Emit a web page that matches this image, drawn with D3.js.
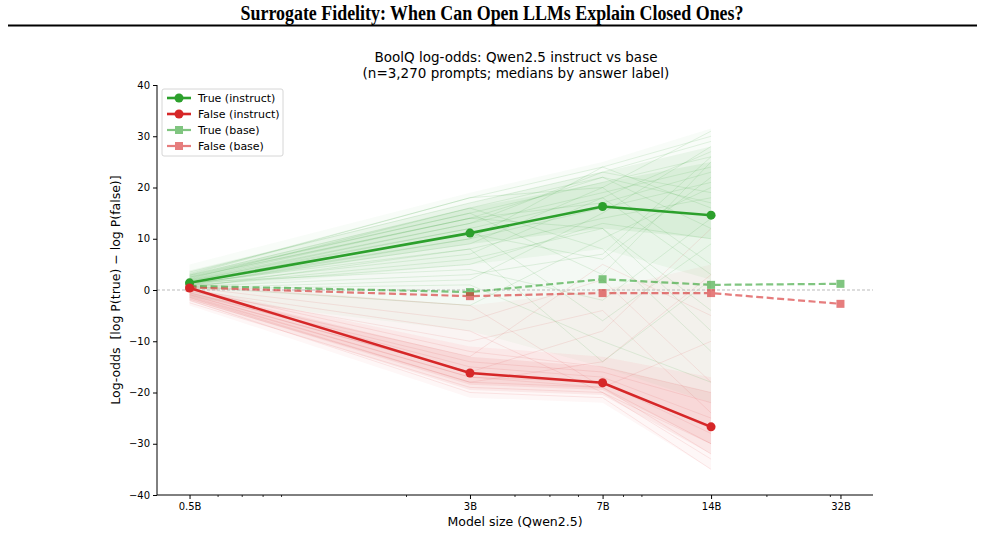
<!DOCTYPE html>
<html>
<head>
<meta charset="utf-8">
<script src="https://cdn.jsdelivr.net/npm/d3@7"></script>
<style>
  body { margin: 0; background: #fff; }
  svg text { font-family: "DejaVu Sans", sans-serif; }
</style>
</head>
<body>
<div id="chart"></div>
<script>
// model sizes (billions of params) and their tick labels
var sizes = [0.5, 3, 7, 14, 32];
var sizeLabels = ["0.5B", "3B", "7B", "14B", "32B"];
var minorTicks = [0.6, 0.7, 0.8, 0.9, 2, 4, 5, 6, 8, 9, 20, 30];
var yTicks = [-40, -30, -20, -10, 0, 10, 20, 30, 40];

// medians by answer label (instruct only goes up to 14B)
var trueInstruct = [1.4, 11.1, 16.3, 14.6];
var falseInstruct = [0.4, -16.2, -18.1, -26.7];
var trueBase = [0.8, -0.4, 2.1, 1.0, 1.2];
var falseBase = [0.5, -1.2, -0.6, -0.6, -2.7];

// rough spread of the per-prompt instruct curves
// per size 0.5B..14B
var trueSpread = {
  outerLow: [-1.5, -8, -15, -22],
  denseLow: [0, 5, 8, 2],
  coreLow: [0.8, 9, 12, 10],
  coreHigh: [3, 16, 21, 25],
  denseHigh: [3.8, 17, 23, 28],
  outerHigh: [5, 19, 25, 31.5]
};
var falseSpread = {
  outerLow: [-3, -21, -22, -35],
  denseLow: [-2.2, -19.5, -20.5, -32],
  coreLow: [-1.8, -18.5, -19.5, -30],
  coreHigh: [0, -13, -15, -20],
  denseHigh: [0.5, -11, -13, -17],
  outerHigh: [1.5, -3, 0, 5]
};

// a few individual prompts, estimated from the visible strands
var trueSamples = [
  [3.5, 17, 23, 29], [2.8, 15, 21, 26], [2.0, 13, 19, 24], [1.5, 12, 18, 27],
  [1.0, 10, 16, 21], [0.5, 8, 14, 18], [2.5, 14, 22, 12], [1.8, 11, 6, 22],
  [1.2, 9, 20, 5], [0.8, 6, 12, -8], [1.5, 4, -2, 14], [0.4, 2, 15, 28],
  [2.2, 16, 8, -12], [1.0, 7, 18, 3], [0.6, -3, 10, 20], [3.0, 18, 24, 30],
  [1.9, 12, -6, 9], [0.2, 1, -10, -18], [1.4, 10, 24, 16], [2.6, 15, 3, 25],
  [3.2, 18, 20, 31], [2.4, 14, 17, 23], [0.9, 5, 13, 10], [1.7, 13, 23, 19],
  [2.9, 16, 22, 17], [0.7, 3, 7, 26], [2.1, 14, 12, -4], [1.3, 8, -14, 2]
];
var falseSamples = [
  [-2.5, -19, -20, -33], [-1.8, -18, -19, -30], [-1.2, -17, -18, -28],
  [-0.5, -15, -17, -25], [-0.8, -14, -16, -22], [0.2, -12, -15, -20],
  [-2.0, -20, -21, -35], [-0.3, -10, -4, -24], [0.5, -6, 2, -18],
  [-1.0, -16, -8, 12], [0.8, -3, -19, -10], [-1.5, -18, -14, 3],
  [0.0, -8, -20, -30], [-0.6, -13, 5, -5], [-1.4, -17, -19, -32],
  [-0.9, -16, -18, -27]
];

var width = 985, height = 553;
var green = "#2ca02c", red = "#d62728";

var svg = d3.select("#chart").append("svg")
  .attr("width", width)
  .attr("height", height);

// page header
svg.append("text")
  .attr("x", 492).attr("y", 20)
  .attr("text-anchor", "middle")
  .attr("textLength", 503)
  .attr("lengthAdjust", "spacingAndGlyphs")
  .style("font-family", "'Liberation Serif', 'Times New Roman', serif")
  .style("font-weight", "bold")
  .style("font-size", "20px")
  .text("Surrogate Fidelity: When Can Open LLMs Explain Closed Ones?");
svg.append("line")
  .attr("x1", 8).attr("x2", 977)
  .attr("y1", 25.5).attr("y2", 25.5)
  .attr("stroke", "#000").attr("stroke-width", 2);

// scales - matplotlib-ish 5% margin in log space
var pad = Math.pow(10, 0.05 * Math.log10(32 / 0.5));
var x = d3.scaleLog()
  .domain([0.5 / pad, 32 * pad])
  .range([157, 873]);
var y = d3.scaleLinear()
  .domain([-40, 40])
  .range([495, 85]);

var plot = svg.append("g");

var area = function(lo, hi) {
  return d3.area()
    .x(function(d, i) { return x(sizes[i]); })
    .y0(function(d, i) { return y(lo[i]); })
    .y1(function(d, i) { return y(hi[i]); })(lo);
};
var line = d3.line()
  .x(function(d, i) { return x(sizes[i]); })
  .y(function(d) { return y(d); });

// faint haze where strands cross over
plot.append("path")
  .attr("d", area(falseSpread.denseHigh, trueSpread.denseLow))
  .attr("fill", "#9fb59f").attr("opacity", 0.04);

// spread bands
[[trueSpread, green], [falseSpread, red]].forEach(function(s) {
  var sp = s[0];
  plot.append("path")
    .attr("d", area(sp.outerLow, sp.outerHigh))
    .attr("fill", s[1]).attr("opacity", 0.035);
  plot.append("path")
    .attr("d", area(sp.denseLow, sp.denseHigh))
    .attr("fill", s[1]).attr("opacity", 0.07);
  plot.append("path")
    .attr("d", area(sp.coreLow, sp.coreHigh))
    .attr("fill", s[1]).attr("opacity", 0.08);
});

// individual strands
plot.selectAll(".strand-true")
  .data(trueSamples)
  .enter().append("path")
  .attr("class", "strand-true")
  .attr("d", line)
  .attr("fill", "none")
  .attr("stroke", green)
  .attr("stroke-width", 0.7)
  .attr("opacity", 0.18);

plot.selectAll(".strand-false")
  .data(falseSamples)
  .enter().append("path")
  .attr("class", "strand-false")
  .attr("d", line)
  .attr("fill", "none")
  .attr("stroke", red)
  .attr("stroke-width", 0.7)
  .attr("opacity", 0.14);

// zero reference
plot.append("line")
  .attr("x1", 157).attr("x2", 873)
  .attr("y1", y(0)).attr("y2", y(0))
  .attr("stroke", "#bbb")
  .attr("stroke-width", 1)
  .attr("stroke-dasharray", "3,2");

// median series
var series = [
  { name: "True (base)", vals: trueBase, color: green, alpha: 0.6, dash: "7,3.5", marker: "square", w: 2.2 },
  { name: "False (base)", vals: falseBase, color: red, alpha: 0.6, dash: "7,3.5", marker: "square", w: 2.2 },
  { name: "True (instruct)", vals: trueInstruct, color: green, alpha: 1, dash: null, marker: "circle", w: 2.6 },
  { name: "False (instruct)", vals: falseInstruct, color: red, alpha: 1, dash: null, marker: "circle", w: 2.6 }
];

series.forEach(function(s) {
  var g = plot.append("g").attr("opacity", s.alpha);
  g.append("path")
    .attr("d", line(s.vals))
    .attr("fill", "none")
    .attr("stroke", s.color)
    .attr("stroke-width", s.w)
    .attr("stroke-dasharray", s.dash);
  if (s.marker === "circle") {
    g.selectAll("circle").data(s.vals).enter().append("circle")
      .attr("cx", function(d, i) { return x(sizes[i]); })
      .attr("cy", function(d) { return y(d); })
      .attr("r", 4.5)
      .attr("fill", s.color);
  } else {
    g.selectAll("rect").data(s.vals).enter().append("rect")
      .attr("x", function(d, i) { return x(sizes[i]) - 4; })
      .attr("y", function(d) { return y(d) - 4; })
      .attr("width", 8).attr("height", 8)
      .attr("fill", s.color);
  }
});

// axes
var xAxis = d3.axisBottom(x)
  .tickValues(sizes)
  .tickFormat(function(d, i) { return sizeLabels[i]; })
  .tickSize(4).tickPadding(4);
var gx = svg.append("g")
  .attr("transform", "translate(0,495)")
  .call(xAxis);
gx.select(".domain").attr("d", "M157,0H873");
gx.selectAll(".tick text").style("font-size", "10px").attr("fill", "#000");
svg.append("g")
  .attr("transform", "translate(0,495)")
  .selectAll("line").data(minorTicks).enter().append("line")
  .attr("x1", function(d) { return x(d); })
  .attr("x2", function(d) { return x(d); })
  .attr("y1", 0).attr("y2", 2)
  .attr("stroke", "#000").attr("stroke-width", 0.8);

var yAxis = d3.axisLeft(y)
  .tickValues(yTicks)
  .tickFormat(function(d) { return d < 0 ? "\u2212" + Math.abs(d) : d; })
  .tickSize(4).tickPadding(3);
var gy = svg.append("g")
  .attr("transform", "translate(157,0)")
  .call(yAxis);
gy.select(".domain").attr("d", "M0,85V495");
gy.selectAll(".tick text").style("font-size", "10px").attr("fill", "#000");

// labels
svg.append("text")
  .attr("x", 515).attr("y", 526)
  .attr("text-anchor", "middle")
  .style("font-size", "12.5px")
  .text("Model size (Qwen2.5)");
svg.append("text")
  .attr("transform", "translate(120,290) rotate(-90)")
  .attr("text-anchor", "middle")
  .style("font-size", "12.5px")
  .attr("xml:space", "preserve")
  .text("Log-odds  [log P(true) \u2212 log P(false)]");

svg.append("text")
  .attr("x", 516).attr("y", 62)
  .attr("text-anchor", "middle")
  .style("font-size", "13.5px")
  .text("BoolQ log-odds: Qwen2.5 instruct vs base");
svg.append("text")
  .attr("x", 516).attr("y", 78)
  .attr("text-anchor", "middle")
  .style("font-size", "13.5px")
  .text("(n=3,270 prompts; medians by answer label)");

// legend
var legendItems = [series[2], series[3], series[0], series[1]];
var lg = svg.append("g").attr("transform", "translate(162,89)");
lg.append("rect")
  .attr("width", 121).attr("height", 67)
  .attr("rx", 2)
  .attr("fill", "#fff").attr("fill-opacity", 0.85)
  .attr("stroke", "#ccc").attr("stroke-width", 0.8);
legendItems.forEach(function(s, i) {
  var row = lg.append("g")
    .attr("transform", "translate(0," + (9 + i * 16) + ")")
    .attr("opacity", s.alpha);
  row.append("line")
    .attr("x1", 5).attr("x2", 29)
    .attr("stroke", s.color).attr("stroke-width", s.w);
  if (s.marker === "circle") {
    row.append("circle").attr("cx", 17).attr("r", 4.5).attr("fill", s.color);
  } else {
    row.append("rect").attr("x", 13).attr("y", -4)
      .attr("width", 8).attr("height", 8).attr("fill", s.color);
  }
  lg.append("text")
    .attr("x", 36).attr("y", 9 + i * 16 + 4)
    .style("font-size", "11px")
    .text(s.name);
});
</script>
</body>
</html>
